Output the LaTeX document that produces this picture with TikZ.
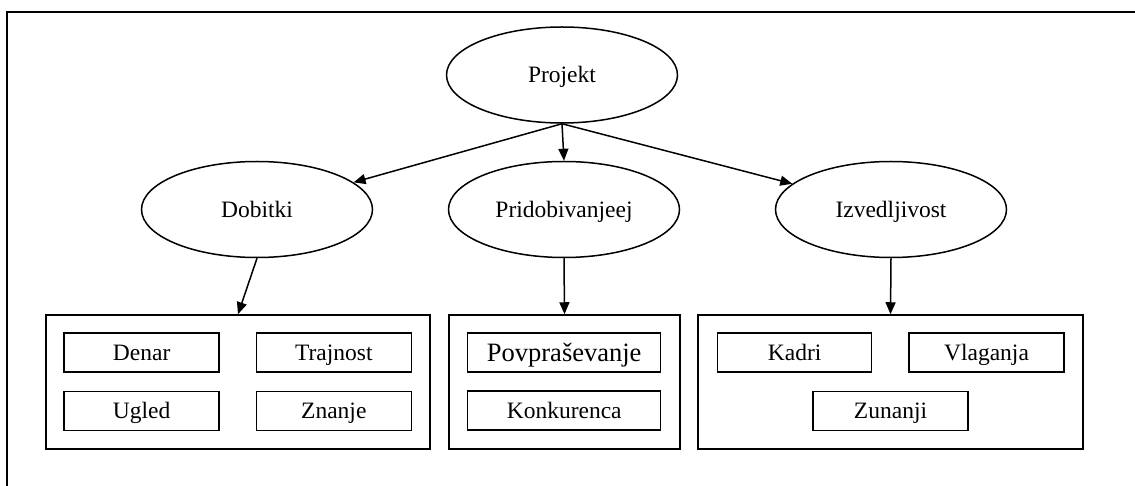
\documentclass[tikz,border=0pt]{standalone}
\usepackage{fontspec}
\setmainfont{Liberation Serif}
\usetikzlibrary{shapes.geometric,arrows.meta}
\tikzset{
  base/.style={draw, line width=1.5pt, inner sep=0pt, text height=21pt, text depth=5.6pt, font=\fontsize{23.5}{28}\selectfont},
  oval/.style={base, ellipse, minimum width=231pt, minimum height=96pt},
  group/.style={draw, line width=1.5pt, inner sep=0pt, rectangle},
  item/.style={base, rectangle, minimum height=39pt},
  arr/.style={line width=1.5pt, -{Triangle[length=12pt,width=10pt]}},
  frame/.style={line width=2.2pt}
}
\begin{document}
\begin{tikzpicture}[x=1pt,y=-1pt]
\useasboundingbox (0,0) rectangle (1135,486);
\draw[frame] (7,490) -- (7,12) -- (1140,12);
% ellipses
\node[oval] (P) at (562,75) {Projekt};
\node[oval] (D) at (257,209.5) {Dobitki};
\node[oval] (M) at (564,209.5) {Pridobivanjeej};
\node[oval] (I) at (891,209.5) {Izvedljivost};
% group boxes
\node[group, minimum width=384pt, minimum height=134pt] (B1) at (238,382) {};
\node[group, minimum width=231pt, minimum height=134pt] (B2) at (564.5,382) {};
\node[group, minimum width=385pt, minimum height=134pt] (B3) at (890.5,382) {};
% items
\node[item, minimum width=155pt] (denar) at (141.7,352.5) {Denar};
\node[item, minimum width=155pt] (trajnost) at (333.8,352.5) {Trajnost};
\node[item, minimum width=155pt] (ugled) at (141.7,411) {Ugled};
\node[item, minimum width=155pt] (znanje) at (333.8,411) {Znanje};
\node[item, minimum width=193pt, font=\fontsize{26.5}{31}\selectfont, text height=23.5pt, text depth=6.3pt] (povp) at (564.2,352.5) {Povpraševanje};
\node[item, minimum width=193pt] (konk) at (564.2,410.5) {Konkurenca};
\node[item, minimum width=154pt] (kadri) at (794.7,352.5) {Kadri};
\node[item, minimum width=155pt] (vlag) at (986.5,352.5) {Vlaganja};
\node[item, minimum width=155pt] (zun) at (890.5,411) {Zunanji};
% connectors
\draw[arr] (P.south) -- (D);
\draw[arr] (P.south) -- (M.north);
\draw[arr] (P.south) -- (I);
\draw[arr] (D.south) -- (B1.north);
\draw[arr] (M.south) -- (B2.north);
\draw[arr] (I.south) -- (B3.north);
\end{tikzpicture}
\end{document}
